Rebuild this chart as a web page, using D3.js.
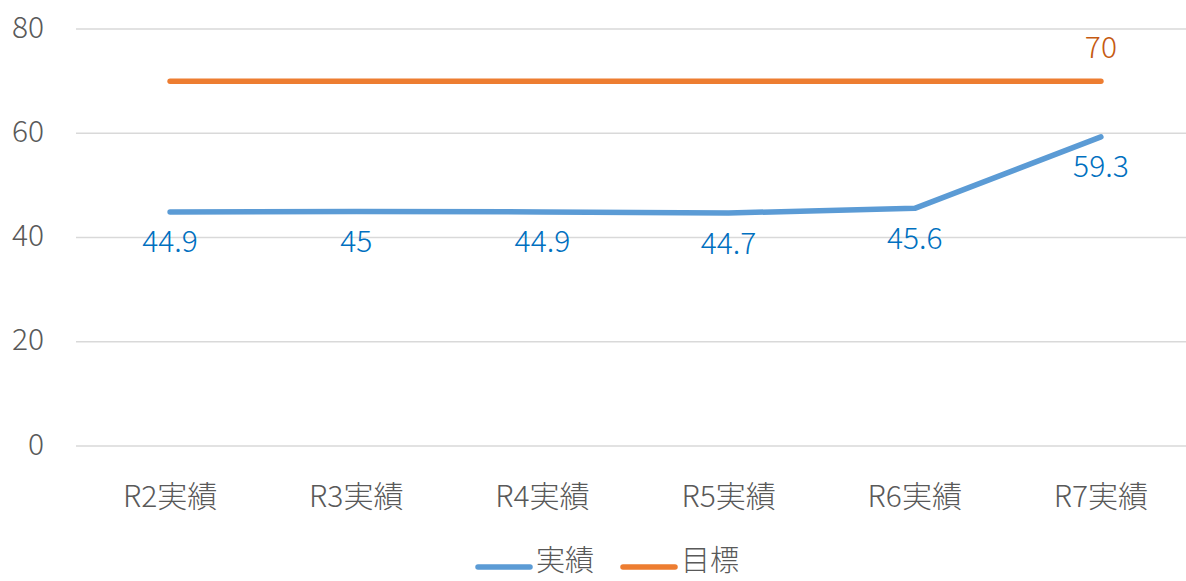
<!DOCTYPE html>
<html><head><meta charset="utf-8">
<script src="https://cdn.jsdelivr.net/npm/d3@7"></script>
<style>body{margin:0;background:#fff;}svg{display:block;font-family:"Noto Sans CJK JP","Noto Sans",sans-serif;}</style>
</head><body>
<svg id="c" width="1186" height="581"></svg>
<script>
const categories = ["R2実績","R3実績","R4実績","R5実績","R6実績","R7実績"];
const actual = [44.9, 45, 44.9, 44.7, 45.6, 59.3];
const target = [70, 70, 70, 70, 70, 70];
const yTicks = [0, 20, 40, 60, 80];
const seriesNames = ["実績", "目標"];

(function () {
const svg = d3.select("#c");
const mLeft = 77, mRight = 1194, mTop = 29, mBottom = 446;
const fs = 30;
const x = d3.scalePoint().domain(categories).range([mLeft, mRight]).padding(0.5);
const y = d3.scaleLinear().domain([0, 80]).range([mBottom, mTop]);

// grid
svg.append("g").selectAll("line").data(yTicks).join("line")
  .attr("x1", mLeft - 1).attr("x2", 1186)
  .attr("y1", d => y(d)).attr("y2", d => y(d))
  .attr("stroke", "#d9d9d9").attr("stroke-width", 1.3);

// y axis labels
svg.append("g").selectAll("text").data(yTicks).join("text")
  .attr("x", 44).attr("y", d => y(d) - 2).attr("dy", "0.35em")
  .attr("text-anchor", "end").attr("fill", "#595959")
  .attr("font-size", fs).attr("font-weight", 300).text(d => d);

// x axis labels
svg.append("g").selectAll("text").data(categories).join("text")
  .attr("x", d => x(d)).attr("y", 496).attr("dy", "0.35em")
  .attr("text-anchor", "middle").attr("fill", "#595959")
  .attr("font-size", fs).attr("font-weight", 300).text(d => d);

const line = d3.line().x((d, i) => x(categories[i])).y(d => y(d));

svg.append("path").datum(target).attr("d", line)
  .attr("fill", "none").attr("stroke", "#ED7D31").attr("stroke-width", 5.5)
  .attr("stroke-linecap", "round").attr("stroke-linejoin", "round");
svg.append("path").datum(actual).attr("d", line)
  .attr("fill", "none").attr("stroke", "#5B9BD5").attr("stroke-width", 5.5)
  .attr("stroke-linecap", "round").attr("stroke-linejoin", "round");

// labels
svg.append("g").selectAll("text").data(actual).join("text")
  .attr("x", (d, i) => x(categories[i])).attr("y", d => y(d) + 30).attr("dy", "0.35em")
  .attr("text-anchor", "middle").attr("fill", "#0070C0")
  .attr("font-size", fs).attr("font-weight", 300).text(d => d);

const li = target.length - 1;
svg.append("text").attr("x", x(categories[li])).attr("y", y(target[li]) - 34).attr("dy", "0.35em")
  .attr("text-anchor", "middle").attr("fill", "#C55A11")
  .attr("font-size", fs).attr("font-weight", 300).text(target[li]);

// legend
const legend = [{name: seriesNames[0], color: "#5B9BD5", x: 476}, {name: seriesNames[1], color: "#ED7D31", x: 621}];
const lg = svg.append("g").selectAll("g").data(legend).join("g");
lg.append("line").attr("x1", d => d.x + 2).attr("x2", d => d.x + 54)
  .attr("y1", 567).attr("y2", 567).attr("stroke", d => d.color).attr("stroke-width", 5.5).attr("stroke-linecap", "round");
lg.append("text").attr("x", d => d.x + 60).attr("y", 571)
  .attr("fill", "#595959").attr("font-size", 29).attr("font-weight", 300).text(d => d.name);
})();
</script>
</body></html>
